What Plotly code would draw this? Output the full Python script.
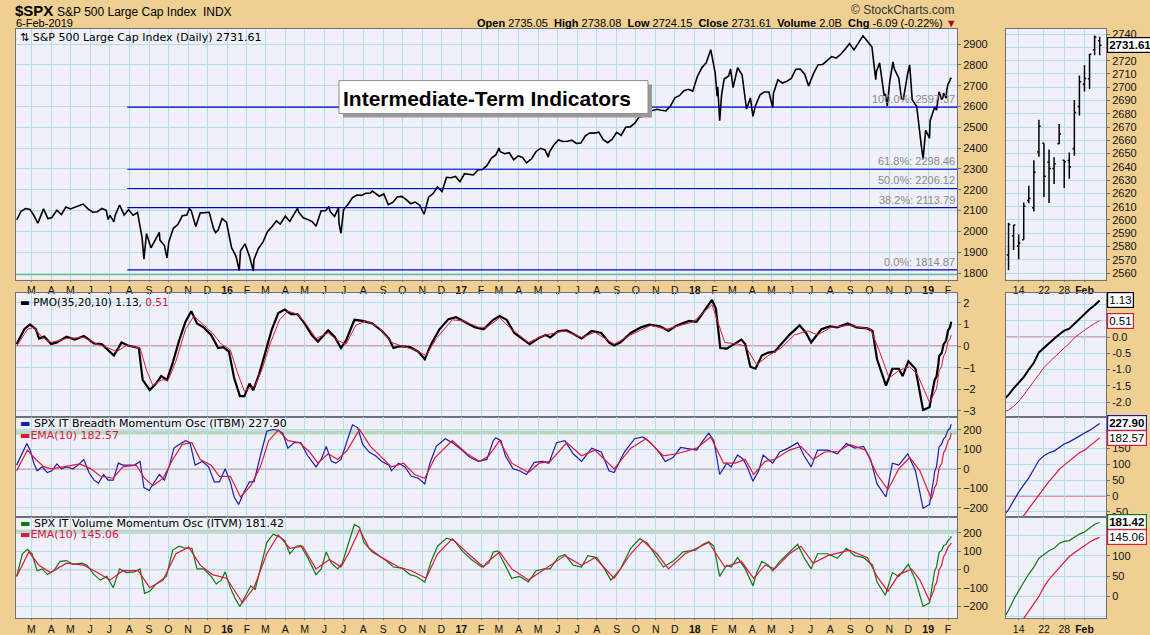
import pandas as pd
import plotly.graph_objects as go

W, H = 1150, 635

# ---------------- data ----------------
PRICE = [
("2015-02-06",2055),("2015-02-13",2097),("2015-02-20",2110),("2015-02-27",2105),("2015-03-06",2071),("2015-03-11",2040),
("2015-03-13",2053),("2015-03-20",2108),("2015-03-27",2061),("2015-04-02",2067),("2015-04-10",2102),("2015-04-17",2081),
("2015-04-24",2117),("2015-05-01",2108),("2015-05-08",2116),("2015-05-15",2123),("2015-05-21",2131),("2015-05-29",2107),
("2015-06-05",2092),("2015-06-12",2094),("2015-06-19",2110),("2015-06-26",2101),("2015-06-29",2057),("2015-07-02",2077),
("2015-07-08",2046),("2015-07-10",2077),("2015-07-17",2127),("2015-07-24",2079),("2015-07-31",2104),("2015-08-07",2078),
("2015-08-14",2091),("2015-08-21",1971),("2015-08-24",1867),("2015-08-28",1989),("2015-09-04",1921),("2015-09-11",1961),
("2015-09-17",1995),("2015-09-18",1958),("2015-09-25",1932),("2015-09-29",1872),("2015-10-02",1951),("2015-10-09",2015),
("2015-10-16",2033),("2015-10-23",2075),("2015-10-30",2079),("2015-11-03",2109),("2015-11-06",2099),("2015-11-13",2023),
("2015-11-20",2089),("2015-11-27",2090),("2015-12-04",2092),("2015-12-11",2012),("2015-12-14",1994),("2015-12-18",2006),
("2015-12-24",2061),("2015-12-31",2044),("2016-01-08",1922),("2016-01-15",1880),("2016-01-20",1812),("2016-01-22",1907),
("2016-01-29",1940),("2016-02-05",1880),("2016-02-11",1810),("2016-02-12",1865),("2016-02-19",1918),("2016-02-26",1948),
("2016-03-04",1999),("2016-03-11",2022),("2016-03-18",2050),("2016-03-24",2035),("2016-04-01",2073),("2016-04-08",2048),
("2016-04-15",2081),("2016-04-20",2111),("2016-04-22",2092),("2016-04-29",2065),("2016-05-06",2057),("2016-05-13",2047),
("2016-05-19",2025),("2016-05-27",2099),("2016-06-03",2099),("2016-06-08",2120),("2016-06-10",2096),("2016-06-17",2071),
("2016-06-23",2113),("2016-06-24",2037),("2016-06-27",1991),("2016-07-01",2103),("2016-07-08",2130),("2016-07-15",2162),
("2016-07-22",2175),("2016-07-29",2173),("2016-08-05",2183),("2016-08-12",2184),("2016-08-15",2194),("2016-08-19",2184),
("2016-08-26",2169),("2016-09-02",2180),("2016-09-09",2128),("2016-09-16",2139),("2016-09-23",2165),("2016-09-30",2168),
("2016-10-07",2153),("2016-10-14",2133),("2016-10-21",2141),("2016-10-28",2126),("2016-11-04",2083),("2016-11-11",2164),
("2016-11-18",2182),("2016-11-25",2213),("2016-12-02",2192),("2016-12-09",2260),("2016-12-16",2258),("2016-12-23",2264),
("2016-12-30",2239),("2017-01-06",2277),("2017-01-13",2275),("2017-01-20",2271),("2017-01-27",2295),("2017-02-03",2297),
("2017-02-10",2316),("2017-02-17",2351),("2017-02-24",2367),("2017-03-01",2400),("2017-03-03",2383),("2017-03-10",2373),
("2017-03-17",2378),("2017-03-24",2344),("2017-03-31",2363),("2017-04-07",2355),("2017-04-13",2329),("2017-04-21",2349),
("2017-04-28",2384),("2017-05-05",2399),("2017-05-12",2391),("2017-05-17",2357),("2017-05-19",2382),("2017-05-26",2416),
("2017-06-02",2439),("2017-06-09",2432),("2017-06-16",2433),("2017-06-23",2438),("2017-06-30",2423),("2017-07-07",2425),
("2017-07-14",2459),("2017-07-21",2473),("2017-07-28",2472),("2017-08-04",2477),("2017-08-11",2441),("2017-08-18",2426),
("2017-08-25",2443),("2017-09-01",2476),("2017-09-08",2461),("2017-09-15",2500),("2017-09-22",2502),("2017-09-29",2519),
("2017-10-06",2549),("2017-10-13",2553),("2017-10-20",2575),("2017-10-27",2581),("2017-11-03",2587),("2017-11-10",2582),
("2017-11-17",2579),("2017-11-24",2602),("2017-12-01",2642),("2017-12-08",2652),("2017-12-15",2676),("2017-12-22",2683),
("2017-12-29",2674),("2018-01-05",2743),("2018-01-12",2786),("2018-01-19",2810),("2018-01-26",2873),("2018-02-02",2762),
("2018-02-05",2649),("2018-02-06",2695),("2018-02-08",2581),("2018-02-09",2532),("2018-02-12",2656),("2018-02-16",2732),
("2018-02-23",2747),("2018-02-26",2780),("2018-03-02",2691),("2018-03-09",2786),("2018-03-16",2752),("2018-03-23",2588),
("2018-03-29",2641),("2018-04-02",2553),("2018-04-06",2604),("2018-04-13",2656),("2018-04-20",2670),("2018-04-27",2670),
("2018-05-03",2594),("2018-05-04",2663),("2018-05-11",2728),("2018-05-18",2713),("2018-05-25",2721),("2018-06-01",2735),
("2018-06-08",2779),("2018-06-15",2780),("2018-06-22",2755),("2018-06-28",2699),("2018-07-06",2760),("2018-07-13",2801),
("2018-07-20",2802),("2018-07-27",2819),("2018-08-03",2840),("2018-08-10",2833),("2018-08-17",2850),("2018-08-24",2875),
("2018-08-31",2902),("2018-09-07",2872),("2018-09-14",2904),("2018-09-21",2940),("2018-09-28",2914),("2018-10-05",2886),
("2018-10-11",2729),("2018-10-12",2767),("2018-10-17",2810),("2018-10-19",2768),("2018-10-24",2656),("2018-10-26",2658),
("2018-10-29",2603),("2018-11-02",2723),("2018-11-07",2814),("2018-11-09",2781),("2018-11-16",2736),("2018-11-20",2641),
("2018-11-23",2633),("2018-11-30",2760),("2018-12-03",2800),("2018-12-07",2633),("2018-12-14",2600),("2018-12-21",2417),
("2018-12-24",2346),("2018-12-28",2486),("2019-01-03",2448),("2019-01-04",2532),("2019-01-09",2585),
]

OHLC_DATES = ["2019-01-10","2019-01-11","2019-01-14","2019-01-15","2019-01-16","2019-01-17","2019-01-18","2019-01-22",
              "2019-01-23","2019-01-24","2019-01-25","2019-01-28","2019-01-29","2019-01-30","2019-01-31","2019-02-01",
              "2019-02-04","2019-02-05","2019-02-06"]
OHLC_OPEN = [2573.51,2588.11,2580.31,2585.10,2614.75,2609.28,2651.27,2657.88,2643.48,2638.84,2657.44,2644.97,2644.89,
             2653.62,2685.49,2702.32,2706.49,2728.34,2735.05]
OHLC_HIGH = [2597.82,2596.27,2589.32,2613.08,2625.76,2645.06,2675.47,2657.88,2653.19,2647.20,2672.38,2644.97,2650.93,
             2690.44,2708.95,2716.66,2724.99,2738.98,2738.08]
OHLC_LOW = [2562.02,2577.40,2570.41,2585.10,2612.68,2606.36,2647.58,2617.27,2612.86,2627.01,2657.33,2624.06,2631.05,
            2648.34,2678.65,2696.88,2698.75,2724.03,2724.15]
OHLC_CLOSE = [2596.64,2596.26,2582.61,2610.30,2616.10,2635.96,2670.71,2632.90,2638.70,2642.33,2664.76,2643.85,2640.00,
              2681.05,2704.10,2706.53,2724.87,2737.70,2731.61]
VOLUME_TEXT = "2.0B"

PMO = [
("2015-02-06",0.09),("2015-02-18",0.78),("2015-02-27",1.0),("2015-03-08",0.78),("2015-03-13",0.35),("2015-03-21",0.44),
("2015-04-01",0.10),("2015-04-10",0.17),("2015-04-25",0.44),("2015-05-08",0.30),("2015-05-22",0.47),("2015-06-07",0.12),
("2015-06-19",0.09),("2015-06-29",-0.17),("2015-07-08",-0.44),("2015-07-20",0.17),("2015-07-30",0.03),("2015-08-16",-0.09),
("2015-08-22",-1.57),("2015-09-02",-2.04),("2015-09-12",-1.74),("2015-09-20",-1.39),("2015-09-29",-1.57),("2015-10-08",-0.78),
("2015-10-18",0.26),("2015-10-28",1.13),("2015-11-06",1.62),("2015-11-15",1.05),("2015-11-25",0.87),("2015-12-07",0.52),
("2015-12-18",-0.09),("2015-12-26",-0.05),("2016-01-04",-0.26),("2016-01-12",-1.48),("2016-01-21",-2.32),("2016-01-28",-2.32),
("2016-02-05",-1.74),("2016-02-11",-2.04),("2016-02-20",-1.31),("2016-03-01",-0.26),("2016-03-11",0.78),("2016-03-21",1.53),
("2016-03-31",1.69),("2016-04-10",1.48),("2016-04-20",1.48),("2016-05-01",1.05),("2016-05-12",0.52),("2016-05-22",0.21),
("2016-06-07",0.73),("2016-06-17",0.44),("2016-06-27",-0.09),("2016-07-05",0.26),("2016-07-18",1.22),("2016-07-31",1.17),
("2016-08-15",1.05),("2016-08-30",0.70),("2016-09-10",0.35),("2016-09-17",-0.09),("2016-09-27",0.0),("2016-10-13",-0.05),
("2016-10-26",-0.26),("2016-11-05",-0.61),("2016-11-15",0.09),("2016-11-28",0.78),("2016-12-12",1.25),("2016-12-24",1.34),
("2017-01-07",1.13),("2017-01-22",0.87),("2017-02-05",0.78),("2017-02-20",1.22),("2017-03-02",1.39),("2017-03-13",1.22),
("2017-03-25",0.61),("2017-04-07",0.35),("2017-04-18",0.09),("2017-05-01",0.35),("2017-05-13",0.52),("2017-05-20",0.40),
("2017-06-02",0.70),("2017-06-15",0.73),("2017-06-27",0.52),("2017-07-08",0.35),("2017-07-24",0.70),("2017-08-08",0.61),
("2017-08-20",0.17),("2017-08-28",0.03),("2017-09-07",0.17),("2017-09-23",0.61),("2017-10-09",0.87),("2017-10-22",0.99),
("2017-11-08",0.92),("2017-11-21",0.70),("2017-12-04",0.96),("2017-12-23",1.17),("2018-01-04",1.13),("2018-01-16",1.66),
("2018-01-28",2.14),("2018-02-03",1.74),("2018-02-10",-0.09),("2018-02-20",-0.12),("2018-03-05",0.12),("2018-03-15",0.30),
("2018-03-21",0.09),("2018-03-29",-0.96),("2018-04-06",-1.05),("2018-04-16",-0.44),("2018-04-26",-0.30),("2018-05-06",-0.26),
("2018-05-16",0.09),("2018-05-29",0.52),("2018-06-14",0.96),("2018-06-24",0.61),("2018-07-02",0.17),("2018-07-18",0.78),
("2018-07-31",0.91),("2018-08-12",0.87),("2018-08-28",1.05),("2018-09-11",0.87),("2018-09-28",0.82),("2018-10-06",0.70),
("2018-10-13",-0.61),("2018-10-27",-1.83),("2018-11-06",-1.05),("2018-11-16",-1.05),("2018-11-22",-1.39),("2018-12-01",-0.70),
("2018-12-12",-1.05),("2018-12-24",-2.96),("2019-01-03",-2.84),
]
PMO_SIGNAL = [
("2015-02-06",0.0),("2015-02-23",0.78),("2015-03-05",0.87),("2015-03-18",0.40),("2015-04-01",0.17),("2015-04-25",0.35),
("2015-05-22",0.40),("2015-06-12",0.09),("2015-07-02",-0.12),("2015-07-12",-0.26),("2015-07-28",0.03),("2015-08-18",-0.09),
("2015-08-28",-1.13),("2015-09-07",-1.83),("2015-09-20",-1.57),("2015-10-01",-1.57),("2015-10-13",-0.70),("2015-10-28",0.78),
("2015-11-10",1.39),("2015-11-23",1.05),("2015-12-09",0.61),("2015-12-23",0.09),("2016-01-06",-0.17),("2016-01-17",-1.22),
("2016-01-28",-2.09),("2016-02-07",-1.92),("2016-02-14",-1.83),("2016-02-25",-1.05),("2016-03-08",0.09),("2016-03-23",1.22),
("2016-04-05",1.62),("2016-04-20",1.48),("2016-05-03",1.05),("2016-05-19",0.35),("2016-06-07",0.61),("2016-06-22",0.26),
("2016-07-05",0.09),("2016-07-20",0.96),("2016-08-05",1.17),("2016-08-25",0.87),("2016-09-14",0.17),("2016-09-30",0.0),
("2016-10-20",-0.17),("2016-11-07",-0.44),("2016-11-23",0.35),("2016-12-18",1.22),("2017-01-04",1.17),("2017-01-28",0.87),
("2017-02-10",0.87),("2017-03-02",1.31),("2017-03-21",0.78),("2017-04-16",0.17),("2017-05-13",0.52),("2017-06-12",0.70),
("2017-07-08",0.40),("2017-07-29",0.64),("2017-08-28",0.09),("2017-09-23",0.52),("2017-10-24",0.96),("2017-11-18",0.78),
("2017-12-30",1.13),("2018-01-28",1.92),("2018-02-17",0.17),("2018-03-10",0.09),("2018-03-21",0.0),("2018-04-08",-0.87),
("2018-04-26",-0.44),("2018-05-16",-0.09),("2018-06-06",0.52),("2018-06-27",0.70),("2018-07-12",0.52),("2018-08-02",0.87),
("2018-08-31",0.96),("2018-10-03",0.78),("2018-10-17",-0.26),("2018-11-01",-1.48),("2018-11-16",-1.13),("2018-12-03",-0.96),
("2018-12-15",-1.31),("2019-01-03",-2.61),
]
ITBM = [
("2015-02-06",19),("2015-02-15",86),("2015-02-22",129),("2015-02-27",96),("2015-03-05",29),("2015-03-10",-10),("2015-03-18",10),
("2015-03-26",-19),("2015-04-02",-10),("2015-04-10",25),("2015-04-17",0),("2015-04-25",10),("2015-05-05",0),("2015-05-13",19),
("2015-05-22",48),("2015-05-30",-19),("2015-06-07",-58),("2015-06-14",-73),("2015-06-22",-29),("2015-06-29",-58),("2015-07-07",-58),
("2015-07-15",29),("2015-07-22",19),("2015-07-30",19),("2015-08-09",19),("2015-08-18",38),("2015-08-24",-96),("2015-09-01",-111),
("2015-09-10",-67),("2015-09-17",-29),("2015-09-25",-58),("2015-10-03",19),("2015-10-10",106),("2015-10-18",125),("2015-10-28",144),
("2015-11-04",134),("2015-11-12",19),("2015-11-23",38),("2015-12-03",10),("2015-12-12",-67),("2015-12-20",-67),("2015-12-29",0),
("2016-01-06",-67),("2016-01-12",-144),("2016-01-19",-182),("2016-01-28",-115),("2016-02-05",-67),("2016-02-12",-67),("2016-02-22",67),
("2016-03-03",192),("2016-03-13",201),("2016-03-21",196),("2016-03-28",182),("2016-04-05",106),("2016-04-15",134),("2016-04-25",134),
("2016-05-06",67),("2016-05-19",10),("2016-05-27",48),("2016-06-04",115),("2016-06-12",38),("2016-06-19",29),("2016-06-27",48),
("2016-07-05",125),("2016-07-15",225),("2016-07-23",211),("2016-07-31",125),("2016-08-10",86),("2016-08-20",67),("2016-08-30",38),
("2016-09-10",19),("2016-09-14",-10),("2016-09-25",29),("2016-10-05",10),("2016-10-15",-38),("2016-10-26",-48),("2016-11-05",-77),
("2016-11-13",29),("2016-11-23",115),("2016-12-07",154),("2016-12-18",134),("2017-01-02",96),("2017-01-15",58),("2017-01-28",38),
("2017-02-10",48),("2017-02-20",144),("2017-02-24",159),("2017-03-04",144),("2017-03-11",67),("2017-03-23",0),("2017-04-02",-10),
("2017-04-13",-29),("2017-04-25",33),("2017-05-08",38),("2017-05-18",29),("2017-05-30",134),("2017-06-12",144),("2017-06-25",77),
("2017-07-08",38),("2017-07-24",106),("2017-08-08",86),("2017-08-20",-10),("2017-08-28",-19),("2017-09-13",86),("2017-09-29",154),
("2017-10-12",163),("2017-10-24",134),("2017-11-06",86),("2017-11-16",38),("2017-11-28",58),("2017-12-10",109),("2017-12-23",102),
("2018-01-04",96),("2018-01-14",144),("2018-01-23",182),("2018-01-31",144),("2018-02-09",-29),("2018-02-20",29),("2018-02-27",10),
("2018-03-09",71),("2018-03-18",48),("2018-03-24",10),("2018-04-02",-63),("2018-04-11",-10),("2018-04-18",71),("2018-04-26",48),
("2018-05-03",29),("2018-05-14",86),("2018-05-27",106),("2018-06-11",134),("2018-06-21",67),("2018-07-02",10),("2018-07-12",96),
("2018-07-28",96),("2018-08-12",77),("2018-08-26",129),("2018-09-08",106),("2018-09-22",115),("2018-10-03",48),("2018-10-13",-77),
("2018-10-27",-144),("2018-11-06",29),("2018-11-16",19),("2018-11-30",77),("2018-12-12",-10),("2018-12-24",-202),("2019-01-03",-182),
]
ITBM_EMA = [
("2015-02-06",-10),("2015-02-23",96),("2015-03-08",48),("2015-03-21",10),("2015-04-02",0),("2015-04-20",10),("2015-05-16",25),
("2015-06-02",0),("2015-06-17",-38),("2015-07-07",-48),("2015-07-22",10),("2015-08-12",19),("2015-08-25",-48),("2015-09-07",-86),
("2015-09-23",-48),("2015-10-08",48),("2015-10-23",125),("2015-11-07",134),("2015-11-20",48),("2015-12-07",19),("2015-12-20",-38),
("2016-01-06",-38),("2016-01-22",-144),("2016-02-07",-86),("2016-02-22",10),("2016-03-06",144),("2016-03-21",198),("2016-04-05",144),
("2016-04-23",134),("2016-05-09",86),("2016-05-22",29),("2016-06-07",77),("2016-06-22",48),("2016-07-07",96),("2016-07-26",202),
("2016-08-12",115),("2016-08-30",58),("2016-09-14",10),("2016-10-03",29),("2016-10-20",-29),("2016-11-05",-48),("2016-11-21",58),
("2016-12-18",144),("2017-01-10",77),("2017-01-30",38),("2017-02-13",67),("2017-03-02",144),("2017-03-21",29),("2017-04-16",-19),
("2017-05-03",29),("2017-05-20",38),("2017-06-15",134),("2017-07-08",67),("2017-07-29",96),("2017-08-28",0),("2017-09-23",106),
("2017-10-17",154),("2017-11-13",67),("2017-12-04",77),("2018-01-04",106),("2018-01-26",163),("2018-02-15",29),("2018-03-05",29),
("2018-03-21",48),("2018-04-03",-29),("2018-04-21",38),("2018-05-06",48),("2018-05-29",96),("2018-06-16",115),("2018-07-05",48),
("2018-07-23",86),("2018-08-14",90),("2018-08-31",125),("2018-09-25",96),("2018-10-13",-29),("2018-10-30",-106),("2018-11-16",0),
("2018-12-03",58),("2018-12-19",-10),("2019-01-06",-154),
]
ITVM = [
("2015-02-06",-37),("2015-02-15",86),("2015-02-23",110),("2015-03-02",86),("2015-03-10",-6),("2015-03-18",4),("2015-03-26",-27),
("2015-04-05",-6),("2015-04-15",45),("2015-04-25",49),("2015-05-05",29),("2015-05-19",35),("2015-05-27",24),("2015-06-07",-27),
("2015-06-17",-57),("2015-06-27",-37),("2015-07-07",-98),("2015-07-17",4),("2015-07-28",-16),("2015-08-09",-12),("2015-08-18",4),
("2015-08-25",-129),("2015-09-02",-118),("2015-09-12",-78),("2015-09-20",-57),("2015-09-28",-37),("2015-10-08",106),("2015-10-18",127),
("2015-10-28",116),("2015-11-07",116),("2015-11-15",4),("2015-11-25",4),("2015-12-07",-37),("2015-12-15",-78),("2015-12-23",-57),
("2015-12-29",-12),("2016-01-06",-98),("2016-01-14",-159),("2016-01-21",-200),("2016-01-30",-139),("2016-02-07",-88),("2016-02-14",-108),
("2016-02-22",4),("2016-03-03",147),("2016-03-13",192),("2016-03-23",178),("2016-03-31",157),("2016-04-08",86),("2016-04-18",127),
("2016-04-25",131),("2016-05-06",65),("2016-05-19",-27),("2016-05-27",4),("2016-06-04",96),("2016-06-12",35),("2016-06-22",4),
("2016-06-29",35),("2016-07-07",127),("2016-07-18",245),("2016-07-26",229),("2016-08-02",147),("2016-08-15",96),("2016-08-25",76),
("2016-09-07",45),("2016-09-17",14),("2016-09-30",8),("2016-10-13",-27),("2016-10-23",-37),("2016-11-05",-67),("2016-11-15",45),
("2016-11-25",127),("2016-12-09",171),("2016-12-21",157),("2017-01-04",96),("2017-01-17",55),("2017-02-02",14),("2017-02-13",35),
("2017-02-20",96),("2017-02-27",102),("2017-03-09",35),("2017-03-21",-47),("2017-04-02",-37),("2017-04-16",-67),("2017-04-28",-6),
("2017-05-11",4),("2017-05-20",4),("2017-06-02",69),("2017-06-12",82),("2017-06-25",24),("2017-07-08",14),("2017-07-18",76),
("2017-08-01",65),("2017-08-13",4),("2017-08-23",-57),("2017-09-07",4),("2017-09-23",116),("2017-10-07",167),("2017-10-19",143),
("2017-11-01",76),("2017-11-13",14),("2017-11-28",45),("2017-12-14",96),("2018-01-02",106),("2018-01-14",137),("2018-01-23",151),
("2018-01-31",127),("2018-02-09",-37),("2018-02-20",24),("2018-02-27",14),("2018-03-09",65),("2018-03-21",4),("2018-04-02",-88),
("2018-04-08",-16),("2018-04-16",45),("2018-04-26",24),("2018-05-03",-6),("2018-05-14",45),("2018-05-27",86),("2018-06-11",137),
("2018-06-21",65),("2018-07-02",4),("2018-07-12",86),("2018-07-28",86),("2018-08-12",61),("2018-08-26",116),("2018-09-08",76),
("2018-09-22",65),("2018-10-06",24),("2018-10-13",-67),("2018-10-26",-139),("2018-11-06",-16),("2018-11-16",-37),("2018-12-01",29),
("2018-12-12",-57),("2018-12-24",-200),("2019-01-03",-180),
]
ITVM_EMA = [
("2015-02-06",-37),("2015-02-25",96),("2015-03-13",24),("2015-03-31",-16),("2015-04-25",35),("2015-05-22",24),("2015-06-12",-16),
("2015-07-02",-57),("2015-07-22",-6),("2015-08-15",-6),("2015-09-02",-98),("2015-09-23",-57),("2015-10-13",86),("2015-11-02",122),
("2015-11-20",24),("2015-12-09",-27),("2015-12-31",-47),("2016-01-25",-180),("2016-02-12",-98),("2016-03-03",86),("2016-03-21",188),
("2016-04-08",116),("2016-04-28",127),("2016-05-19",4),("2016-06-09",55),("2016-06-27",14),("2016-07-10",96),("2016-07-26",218),
("2016-08-10",116),("2016-08-30",65),("2016-09-25",14),("2016-10-15",-6),("2016-11-07",-47),("2016-11-25",86),("2016-12-18",167),
("2017-01-12",86),("2017-02-05",14),("2017-02-09",35),("2017-03-02",96),("2017-03-21",4),("2017-04-16",-57),("2017-05-13",4),
("2017-06-12",76),("2017-07-08",24),("2017-07-29",65),("2017-08-28",-47),("2017-09-23",86),("2017-10-12",157),("2017-11-03",86),
("2017-11-21",4),("2017-12-17",86),("2018-01-23",147),("2018-02-17",14),("2018-03-15",45),("2018-04-03",-47),("2018-04-21",24),
("2018-05-06",4),("2018-05-29",86),("2018-06-16",127),("2018-07-05",35),("2018-07-28",76),("2018-08-31",106),("2018-09-28",65),
("2018-10-13",-37),("2018-10-30",-118),("2018-11-16",-27),("2018-12-06",4),("2018-12-19",-57),("2019-01-03",-169),
]
# daily values for the last 19 sessions (same dates as OHLC_DATES)
PMO_RECENT = [-1.78,-1.58,-1.41,-1.23,-1.0,-0.79,-0.47,-0.32,-0.19,-0.05,0.08,0.2,0.26,0.41,0.58,0.73,0.86,0.98,1.13]
PMO_SIGNAL_RECENT = [-2.25,-2.13,-1.98,-1.78,-1.58,-1.36,-1.15,-0.93,-0.78,-0.62,-0.46,-0.33,-0.2,-0.02,0.1,0.22,0.32,0.42,0.51]
ITBM_RECENT = [-43,-15,12,35,57,84,112,126,136,141,153,163,170,178,188,198,206,217,227.90]
ITBM_EMA_RECENT = [-110,-95,-78,-62,-40,-18,4,26,46,64,83,97,110,124,136,144,156,170,182.57]
ITVM_RECENT = [-34,-8,15,35,55,72,94,104,112,118,130,135,137,145,153,158,167,177,181.42]
ITVM_EMA_RECENT = [-110,-90,-72,-55,-35,-17,0,24,42,56,70,86,98,107,116,124,133,140,145.06]

FIB_LEVELS = [1814.87, 2113.79, 2206.12, 2298.46, 2597.37]
FIB_PCTS = ["0.0%", "38.2%", "50.0%", "61.8%", "100.0%"]
FIB_START = "2015-07-29"
GREEN_BASE = 1792
ITBM_BAND = (176, 196)
ITVM_BAND = (194, 216)

MONTH_LETTERS = ["J", "F", "M", "A", "M", "J", "J", "A", "S", "O", "N", "D"]
MAIN_RANGE = ["2015-02-05", "2019-02-15"]
MINI_RANGE = ["2019-01-09 12:00", "2019-02-07 06:00"]
MINI_TICKS = ["2019-01-14", "2019-01-22", "2019-01-28", "2019-02-01"]
MINI_TICKTEXT = ["14", "22", "28", "<b>Feb</b>"]
# right-axis labels of the small panels (values hidden under the value tags are left out)
MINI_PRICE_TICKS = [2560, 2570, 2580, 2590, 2600, 2610, 2620, 2630, 2640, 2650, 2660, 2670, 2680, 2690, 2700, 2710, 2720, 2740]
MINI_PMO_TICKS = [-2.0, -1.5, -1.0, -0.5, 0.0]
MINI_ITBM_TICKS = [-50, 0, 50, 100, 150]
MINI_ITVM_TICKS = [0, 50, 100]

# ---------------- helpers ----------------
def series(pairs, recent):
    return [p[0] for p in pairs] + OHLC_DATES, [p[1] for p in pairs] + list(recent)

TAN = "#efd092"
PANEL = "#eff0f8"
GRID = "#b3ddec"
FRAME = "#70707c"
RED = "#e0163c"
BLUE = "#1c1ca8"
GREEN = "#0b7a12"
FONT = "Liberation Sans, Arial, sans-serif"
TFONT = "DejaVu Sans, Verdana, sans-serif"

def ydom(top, bottom):
    return [1 - bottom / H, 1 - top / H]

MAIN_X = [16 / W, 957 / W]
MINI_X = [1006 / W, 1106 / W]
ROWS = [(28, 280), (293, 418), (418, 518), (518, 620)]

months = pd.date_range("2015-03-01", "2019-02-01", freq="MS")
month_vals = [d.strftime("%Y-%m-%d") for d in months]
month_text = [("<b>%s</b>" % d.strftime("%y")) if d.month == 1 else MONTH_LETTERS[d.month - 1] for d in months]

fig = go.Figure()

px_, py_ = [p[0] for p in PRICE] + OHLC_DATES, [p[1] for p in PRICE] + OHLC_CLOSE
pmo_x, pmo_y = series(PMO, PMO_RECENT)
sig_x, sig_y = series(PMO_SIGNAL, PMO_SIGNAL_RECENT)
b_x, b_y = series(ITBM, ITBM_RECENT)
be_x, be_y = series(ITBM_EMA, ITBM_EMA_RECENT)
v_x, v_y = series(ITVM, ITVM_RECENT)
ve_x, ve_y = series(ITVM_EMA, ITVM_EMA_RECENT)

def line(x, y, xa, ya, color, width):
    fig.add_trace(go.Scatter(x=x, y=y, xaxis=xa, yaxis=ya, mode="lines",
                             line=dict(color=color, width=width), hoverinfo="skip"))

# main panels
line(px_, py_, "x", "y", "black", 1.6)
line(pmo_x, pmo_y, "x2", "y2", "black", 2.2)
line(sig_x, sig_y, "x2", "y2", RED, 1)
line(b_x, b_y, "x3", "y3", BLUE, 1.2)
line(be_x, be_y, "x3", "y3", RED, 1.2)
line(v_x, v_y, "x4", "y4", GREEN, 1.2)
line(ve_x, ve_y, "x4", "y4", RED, 1.2)
# mini panels
fig.add_trace(go.Ohlc(x=OHLC_DATES, open=OHLC_OPEN, high=OHLC_HIGH, low=OHLC_LOW, close=OHLC_CLOSE,
                      xaxis="x5", yaxis="y5", tickwidth=0.35,
                      increasing=dict(line=dict(color="black", width=1.5)),
                      decreasing=dict(line=dict(color="black", width=1.5)), hoverinfo="skip"))
line(pmo_x, pmo_y, "x6", "y6", "black", 2)
line(sig_x, sig_y, "x6", "y6", RED, 1)
line(b_x, b_y, "x7", "y7", BLUE, 1.2)
line(be_x, be_y, "x7", "y7", RED, 1.2)
line(v_x, v_y, "x8", "y8", GREEN, 1.2)
line(ve_x, ve_y, "x8", "y8", RED, 1.2)

tickfont = dict(family=FONT, size=11, color="#111")
xtickfont = dict(family=FONT, size=10.5, color="#111")

def xaxis(domain, anchor, main, labels):
    d = dict(domain=domain, anchor=anchor, type="date", showgrid=True, gridcolor=GRID, gridwidth=1,
             showline=True, linecolor=FRAME, linewidth=1, mirror=True, zeroline=False,
             ticks="outside" if labels else "", ticklen=1, tickcolor=FRAME, tickfont=xtickfont,
             showticklabels=labels, fixedrange=True)
    if main:
        d.update(range=MAIN_RANGE, tickmode="array", tickvals=month_vals, ticktext=month_text)
    else:
        d.update(range=MINI_RANGE, tickmode="array", tickvals=MINI_TICKS, ticktext=MINI_TICKTEXT,
                 rangebreaks=[dict(bounds=["sat", "mon"]), dict(values=["2019-01-21"])])
    return d

def yaxis(row, anchor, rng, dtick, tickvals=None, fmt=None):
    d = dict(domain=ydom(*ROWS[row]), anchor=anchor, side="right", range=rng,
             showgrid=True, gridcolor=GRID, gridwidth=1, zeroline=False, showline=True,
             linecolor=FRAME, linewidth=1, mirror=True, ticks="outside", ticklen=3, tickcolor=FRAME,
             tickfont=tickfont, fixedrange=True)
    if tickvals is None:
        d["dtick"] = dtick
    else:
        d.update(tickmode="array", tickvals=tickvals,
                 ticktext=[(("%.1f" % v) if fmt else ("%d" % v)) for v in tickvals],
                 minor=dict(dtick=dtick, showgrid=True, gridcolor=GRID, ticks=""))
    return d

layout = dict(
    width=W, height=H, autosize=False, margin=dict(l=0, r=0, t=0, b=0),
    paper_bgcolor=TAN, plot_bgcolor=PANEL, showlegend=False, hovermode=False,
    xaxis=xaxis(MAIN_X, "y", True, True),
    xaxis2=xaxis(MAIN_X, "y2", True, False),
    xaxis3=xaxis(MAIN_X, "y3", True, False),
    xaxis4=xaxis(MAIN_X, "y4", True, True),
    xaxis5=xaxis(MINI_X, "y5", False, True),
    xaxis6=xaxis(MINI_X, "y6", False, False),
    xaxis7=xaxis(MINI_X, "y7", False, False),
    xaxis8=xaxis(MINI_X, "y8", False, True),
    yaxis=yaxis(0, "x", [1768, 2973], 100),
    yaxis2=yaxis(1, "x2", [-3.29, 2.48], 1),
    yaxis3=yaxis(2, "x3", [-244, 265], 100),
    yaxis4=yaxis(3, "x4", [-263, 288], 100),
    yaxis5=yaxis(0, "x5", [2555, 2744], 10, MINI_PRICE_TICKS),
    yaxis6=yaxis(1, "x6", [-2.46, 1.37], 0.5, MINI_PMO_TICKS, ".1f"),
    yaxis7=yaxis(2, "x7", [-64.7, 248], 50, MINI_ITBM_TICKS),
    yaxis8=yaxis(3, "x8", [-53, 196], 50, MINI_ITVM_TICKS),
)
fig.update_layout(**layout)
fig.update_xaxes(rangeslider_visible=False)

shapes = []
# zero lines
for xa, ya in [("x2", "y2"), ("x3", "y3"), ("x4", "y4"), ("x6", "y6"), ("x7", "y7"), ("x8", "y8")]:
    shapes.append(dict(type="line", xref=xa + " domain", x0=0, x1=1, yref=ya, y0=0, y1=0,
                       line=dict(color=RED, width=1), layer="below"))
# green bands
shapes.append(dict(type="rect", xref="x3 domain", x0=0, x1=1, yref="y3", y0=ITBM_BAND[0], y1=ITBM_BAND[1],
                   fillcolor="rgba(120,185,120,0.45)", line=dict(width=0), layer="below"))
shapes.append(dict(type="rect", xref="x4 domain", x0=0, x1=1, yref="y4", y0=ITVM_BAND[0], y1=ITVM_BAND[1],
                   fillcolor="rgba(120,185,120,0.45)", line=dict(width=0), layer="below"))
# fib lines and baseline
for lv in FIB_LEVELS:
    shapes.append(dict(type="line", xref="x", x0=FIB_START, x1=MAIN_RANGE[1], yref="y", y0=lv, y1=lv,
                       line=dict(color="#0000cc", width=1.2)))
shapes.append(dict(type="line", xref="x domain", x0=0, x1=1, yref="y", y0=GREEN_BASE, y1=GREEN_BASE,
                   line=dict(color="#5cae6a", width=1)))
# title box with shadow
shapes.append(dict(type="rect", xref="paper", yref="paper", x0=343 / W, x1=652 / W, y0=1 - 117 / H, y1=1 - 84 / H,
                   fillcolor="#9a9a9a", line=dict(width=0)))
shapes.append(dict(type="rect", xref="paper", yref="paper", x0=339 / W, x1=648 / W, y0=1 - 113 / H, y1=1 - 80 / H,
                   fillcolor="white", line=dict(color="#8a8a8a", width=1)))
fig.update_layout(shapes=shapes)

ann = []
def text(x, y, s, size=11, family=TFONT, color="#000", xanchor="left", yanchor="middle", **kw):
    ann.append(dict(xref="paper", yref="paper", x=x / W, y=1 - y / H, text=s, showarrow=False, borderpad=0,
                    xanchor=xanchor, yanchor=yanchor, font=dict(family=family, size=size, color=color), **kw))

last = len(OHLC_CLOSE) - 1
chg = OHLC_CLOSE[last] - OHLC_CLOSE[last - 1]
pct = chg / OHLC_CLOSE[last - 1] * 100
# header
text(14, 10, "<b>$SPX</b>", size=15, family=FONT)
text(56, 11, "S&P 500 Large Cap Index  INDX", size=12, family=FONT)
text(15, 22.5, "6-Feb-2019", size=11, family=FONT)
text(956, 9, "© StockCharts.com", size=12, family=FONT, color="#333", xanchor="right")
hdr = ("<b>Open</b> %.2f  <b>High</b> %.2f  <b>Low</b> %.2f  <b>Close</b> %.2f  <b>Volume</b> %s  "
       "<b>Chg</b> %.2f (%.2f%%) <span style='color:#a0102a'>▼</span>") % (
    OHLC_OPEN[last], OHLC_HIGH[last], OHLC_LOW[last], OHLC_CLOSE[last], VOLUME_TEXT, chg, pct)
text(958, 22.5, hdr, size=11, family=FONT, xanchor="right")

# panel titles
text(19, 36.5, "⇅ S&P 500 Large Cap Index (Daily) %.2f" % OHLC_CLOSE[last], size=11)
text(19, 302.5, "<span style='color:#000'>▬</span> PMO(35,20,10) %.2f, <span style='color:%s'>%.2f</span>"
     % (PMO_RECENT[-1], RED, PMO_SIGNAL_RECENT[-1]), size=10.5)
text(19, 425, "<span style='color:%s'>▬</span> SPX IT Breadth Momentum Osc (ITBM) %.2f" % (BLUE, ITBM_RECENT[-1]), size=11)
text(19, 436.5, "<span style='color:%s'>▬EMA(10) %.2f</span>" % (RED, ITBM_EMA_RECENT[-1]), size=11)
text(19, 525, "<span style='color:%s'>▬</span> SPX IT Volume Momentum Osc (ITVM) %.2f" % (GREEN, ITVM_RECENT[-1]), size=11)
text(19, 536.5, "<span style='color:%s'>▬EMA(10) %.2f</span>" % (RED, ITVM_EMA_RECENT[-1]), size=11)

# big label
text(342, 97.5, "<b>Intermediate-Term Indicators</b>", size=21, family=FONT)

# fib labels
for lv, pc in zip(FIB_LEVELS, FIB_PCTS):
    ann.append(dict(xref="x domain", yref="y", x=1.0, y=lv, text="%s: %.2f" % (pc, lv), showarrow=False,
                    xanchor="right", yanchor="bottom", yshift=0,
                    font=dict(family=FONT, size=11, color="#8a8a8a")))

# value tags on the mini panels
def tag(ya, val, color, bold=False):
    s = "%.2f" % val
    if bold:
        s = "<b>%s</b>" % s
    ann.append(dict(xref="paper", yref=ya, x=1107 / W, y=val, text=s, showarrow=False, xanchor="left",
                    yanchor="middle", bgcolor="white", bordercolor=color, borderwidth=1.2, borderpad=1,
                    font=dict(family=FONT, size=11.5, color="#000")))

tag("y5", OHLC_CLOSE[last], "#000", True)
tag("y6", PMO_RECENT[-1], "#000")
tag("y6", PMO_SIGNAL_RECENT[-1], RED)
tag("y7", ITBM_RECENT[-1], BLUE, True)
tag("y7", ITBM_EMA_RECENT[-1], RED)
tag("y8", ITVM_RECENT[-1], GREEN, True)
tag("y8", ITVM_EMA_RECENT[-1], RED)

fig.update_layout(annotations=ann)

fig.write_html("out.html", config={"displayModeBar": False},
               post_script="document.body.style.margin='0';document.body.style.overflow='hidden';")
